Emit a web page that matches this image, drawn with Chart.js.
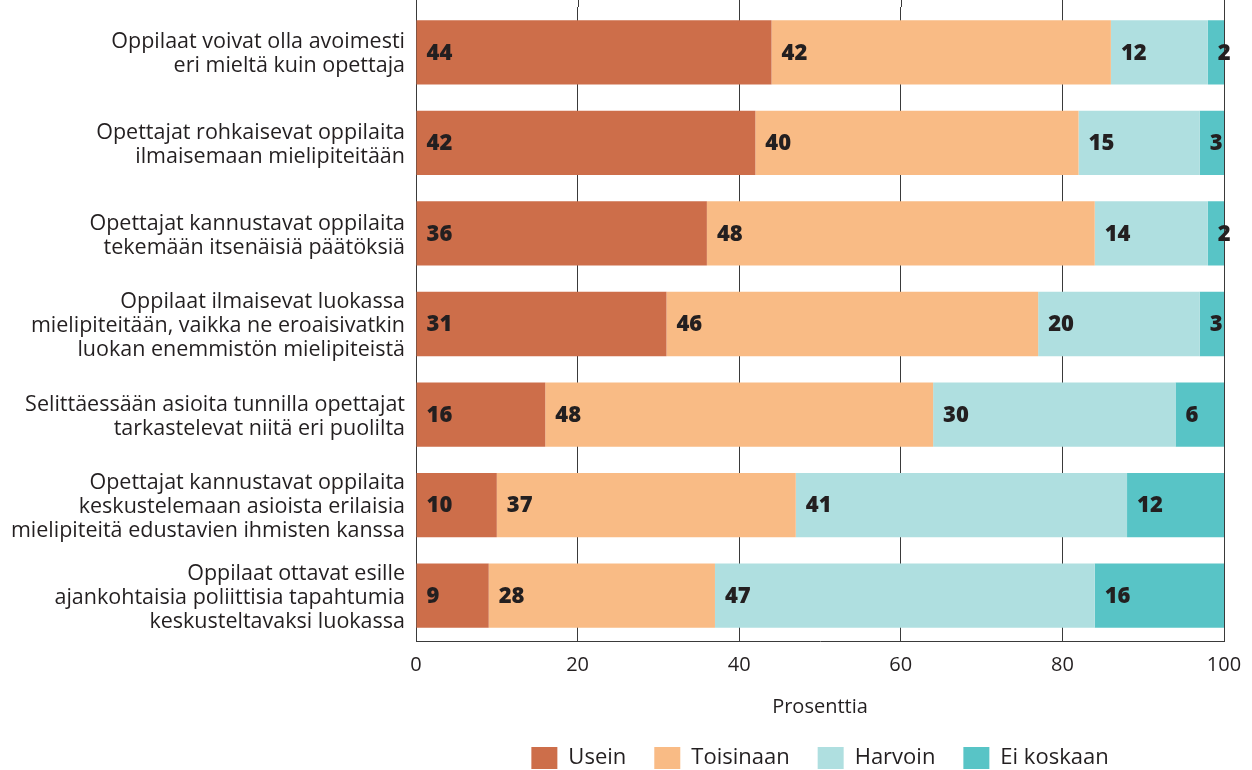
<!DOCTYPE html>
<html>
<head>
<meta charset="utf-8">
<script src="https://cdn.jsdelivr.net/npm/chart.js@4"></script>
<style>
  html, body { margin: 0; padding: 0; background: #fff; }
  #wrap { width: 1252px; height: 770px; }
</style>
</head>
<body>
<div id="wrap"><canvas id="chart"></canvas></div>
<script>
// categories (multi-line labels)
const categories = [
  ['Oppilaat voivat olla avoimesti', 'eri mieltä kuin opettaja'],
  ['Opettajat rohkaisevat oppilaita', 'ilmaisemaan mielipiteitään'],
  ['Opettajat kannustavat oppilaita', 'tekemään itsenäisiä päätöksiä'],
  ['Oppilaat ilmaisevat luokassa', 'mielipiteitään, vaikka ne eroaisivatkin', 'luokan enemmistön mielipiteistä'],
  ['Selittäessään asioita tunnilla opettajat', 'tarkastelevat niitä eri puolilta'],
  ['Opettajat kannustavat oppilaita', 'keskustelemaan asioista erilaisia', 'mielipiteitä edustavien ihmisten kanssa'],
  ['Oppilaat ottavat esille', 'ajankohtaisia poliittisia tapahtumia', 'keskusteltavaksi luokassa']
];

const usein      = [44, 42, 36, 31, 16, 10, 9];
const toisinaan  = [42, 40, 48, 46, 48, 37, 28];
const harvoin    = [12, 15, 14, 20, 30, 41, 47];
const eiKoskaan  = [2, 3, 2, 3, 6, 12, 16];

const seriesNames = ['Usein', 'Toisinaan', 'Harvoin', 'Ei koskaan'];
const xTicks = [0, 20, 40, 60, 80, 100];

const FONT = '"Open Sans", "Noto Sans", sans-serif';
const TEXT = '#231f20';
const GRID = '#3a3a3a';

// draws the numbers inside each segment
const segmentLabels = {
  id: 'segmentLabels',
  afterDatasetsDraw(chart) {
    const ctx = chart.ctx;
    const area = chart.chartArea;
    ctx.save();
    // the 100 line stays visible at the bar ends
    const px = Math.round(chart.scales.x.getPixelForValue(100)) + 0.5;
    ctx.strokeStyle = GRID;
    ctx.lineWidth = 1;
    ctx.beginPath();
    ctx.moveTo(px, area.top);
    ctx.lineTo(px, area.bottom);
    ctx.stroke();

    ctx.font = '800 22px ' + FONT;
    ctx.fillStyle = TEXT;
    ctx.textBaseline = 'middle';
    ctx.textAlign = 'left';
    chart.data.datasets.forEach((ds, i) => {
      chart.getDatasetMeta(i).data.forEach((bar, j) => {
        const left = Math.min(bar.x, bar.base);
        ctx.fillText(String(ds.data[j]), left + 10, bar.y + 1);
      });
    });
    ctx.restore();
  }
};

// gridlines run up to the top edge of the picture
const gridToTop = {
  id: 'gridToTop',
  beforeDatasetsDraw(chart) {
    const ctx = chart.ctx;
    const x = chart.scales.x;
    ctx.save();
    ctx.strokeStyle = GRID;
    ctx.lineWidth = 1;
    xTicks.forEach(v => {
      const px = Math.round(x.getPixelForValue(v)) + 0.5;
      ctx.beginPath();
      ctx.moveTo(px, 0);
      ctx.lineTo(px, chart.chartArea.top);
      ctx.stroke();
    });
    ctx.restore();
  }
};

// wide gaps between legend items but a short legend box,
// centred under the plot area
const LEGEND_TRIM = 4;
const LEGEND_SHIFT = -5;
const legendTrim = {
  id: 'legendTrim',
  beforeLayout(chart) {
    const lg = chart.legend;
    if (lg && !lg._trimmed) {
      const fit = lg.fit;
      lg.fit = function () {
        fit.call(this);
        this.height -= LEGEND_TRIM;
      };
      lg._trimmed = true;
    }
  },
  afterLayout(chart) {
    const lg = chart.legend;
    const area = chart.chartArea;
    lg.top -= LEGEND_SHIFT;
    lg.bottom -= LEGEND_SHIFT;
    lg.left = area.left;
    lg.right = area.right;
    lg.width = area.right - area.left;
  }
};

new Chart(document.getElementById('chart'), {
  type: 'bar',
  data: {
    labels: categories,
    datasets: [
      { label: seriesNames[0], data: usein, backgroundColor: '#cd6e4a' },
      { label: seriesNames[1], data: toisinaan, backgroundColor: '#f9bb85' },
      { label: seriesNames[2], data: harvoin, backgroundColor: '#afdfe0' },
      { label: seriesNames[3], data: eiKoskaan, backgroundColor: '#58c4c6' }
    ]
  },
  options: {
    indexAxis: 'y',
    responsive: true,
    maintainAspectRatio: false,
    animation: false,
    barPercentage: 0.71,
    categoryPercentage: 1,
    layout: { padding: { top: 7, right: 28, left: 6, bottom: 0 } },
    scales: {
      x: {
        stacked: true,
        min: 0,
        max: 100,
        afterBuildTicks(scale) {
          scale.ticks = xTicks.map(v => ({ value: v }));
        },
        afterFit(scale) {
          scale.paddingLeft = 0;
          scale.paddingRight = 0;
        },
        grid: { color: GRID, lineWidth: 1, drawTicks: false },
        border: { color: GRID, width: 1 },
        ticks: { color: TEXT, font: { family: FONT, size: 20 }, padding: 12 },
        title: {
          display: true,
          text: 'Prosenttia',
          color: TEXT,
          font: { family: FONT, size: 20 },
          padding: { top: 6, bottom: -5 }
        }
      },
      y: {
        stacked: true,
        grid: { display: false, drawTicks: false },
        border: { color: GRID, width: 1 },
        afterFit(scale) {
          scale.width = 410;
          scale.paddingTop = 0;
          scale.paddingBottom = 0;
        },
        ticks: {
          color: TEXT,
          font: { family: FONT, size: 21.5, lineHeight: '24px' },
          padding: 11,
          labelOffset: 2,
          autoSkip: false
        }
      }
    },
    plugins: {
      legend: {
        position: 'bottom',
        labels: {
          color: TEXT,
          font: { family: FONT, size: 22 },
          boxWidth: 26,
          boxHeight: 22,
          padding: 28
        }
      },
      tooltip: { enabled: false }
    }
  },
  plugins: [legendTrim, segmentLabels, gridToTop]
});
</script>
</body>
</html>
